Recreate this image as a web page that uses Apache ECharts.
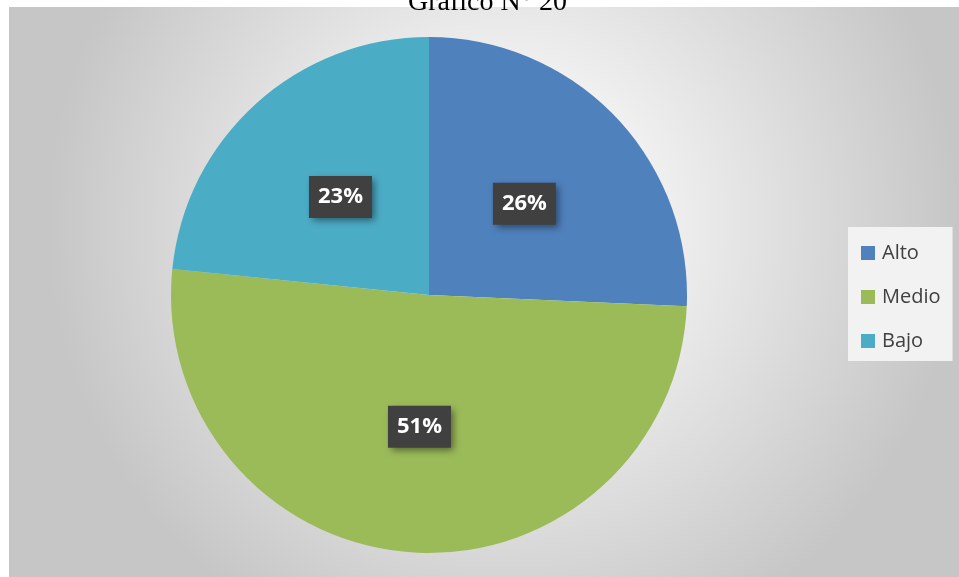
<!DOCTYPE html>
<html>
<head>
<meta charset="utf-8">
<script src="https://cdn.jsdelivr.net/npm/echarts@6/dist/echarts.min.js"></script>
<style>
  html, body { margin: 0; padding: 0; background: #fff; }
  #chart { width: 959px; height: 577px; }
</style>
</head>
<body>
<div id="chart"></div>
<script>
// datos del gráfico
const categorias = ['Alto', 'Medio', 'Bajo']
const porcentajes = [25.7, 50.9, 23.4]
const colores = ['#4F81BD', '#9BBB59', '#4BACC6']

let myChart = echarts.init(document.getElementById('chart'))

let option = {
  animation: false,
  graphic: [
    {
      type: 'rect',
      silent: true,
      z: -10,
      shape: { x: 9, y: 7, width: 950, height: 570 },
      style: {
        fill: new echarts.graphic.RadialGradient(0.52, 0.38, 0.8, [
          { offset: 0, color: '#ffffff' },
          { offset: 0.25, color: '#f6f6f6' },
          { offset: 1, color: '#c6c6c6' }
        ])
      }
    },
    {
      type: 'text',
      left: 408,
      top: -11,
      style: {
        text: 'Gráfico N° 20',
        font: '28px "Liberation Serif", serif',
        fill: '#000'
      }
    }
  ],
  legend: {
    orient: 'vertical',
    left: 848,
    top: 227,
    data: categorias,
    backgroundColor: '#f2f2f2',
    padding: [16, 12, 10, 13],
    itemWidth: 14,
    itemHeight: 14,
    itemGap: 24,
    icon: 'rect',
    textStyle: {
      fontFamily: '"Open Sans", sans-serif',
      fontSize: 20,
      color: '#404040',
      padding: [4, 0, 0, 2]
    }
  },
  series: [
    {
      type: 'pie',
      center: [429, 295],
      radius: [0, 258],
      startAngle: 90,
      clockwise: true,
      silent: true,
      label: {
        show: true,
        position: 'inside',
        formatter: (p) => Math.round(p.value) + '%',
        color: '#fff',
        fontFamily: '"Open Sans", sans-serif',
        fontWeight: 'bold',
        fontSize: 22,
        backgroundColor: '#404040',
        padding: [11, 9, 9, 9],
        shadowColor: 'rgba(0,0,0,0.45)',
        shadowBlur: 7,
        shadowOffsetX: 3,
        shadowOffsetY: 3
      },
      labelLine: { show: false },
      data: categorias.map((name, i) => ({
        name: name,
        value: porcentajes[i],
        itemStyle: { color: colores[i] }
      }))
    }
  ]
}

myChart.setOption(option)
</script>
</body>
</html>
